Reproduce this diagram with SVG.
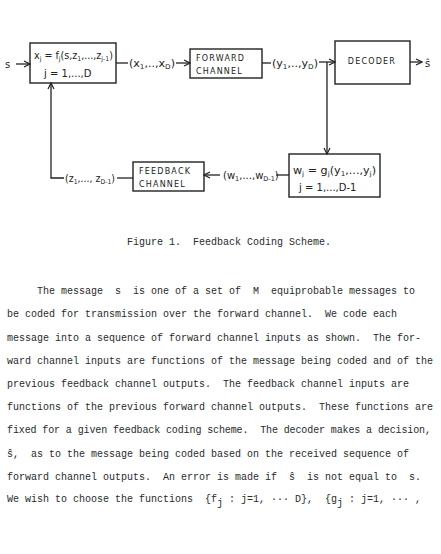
<svg xmlns="http://www.w3.org/2000/svg" width="441" height="554" viewBox="0 0 441 554">
<defs>
<marker id="ah" markerWidth="8" markerHeight="8" refX="7" refY="4" orient="auto" markerUnits="userSpaceOnUse">
<path d="M1,1 L7,4 L1,7" fill="none" stroke="#222" stroke-width="1.2"/>
</marker>
<style>
.box{fill:none;stroke:#222;stroke-width:1.4}
.ln{fill:none;stroke:#222;stroke-width:1.3}
.hw{font-family:"DejaVu Sans","Liberation Sans",sans-serif;font-size:10px;fill:#222}
.cap{font-family:"DejaVu Sans","Liberation Sans",sans-serif;font-size:8px;fill:#222;letter-spacing:1.2px}
.sub{font-size:6.5px}
.tw{font-family:"Liberation Mono","DejaVu Sans Mono",monospace;font-size:10px;fill:#2a2a2a}
</style>
</defs>
<rect width="441" height="554" fill="#fff"/>

<g id="connectors">
<line class="ln" x1="16" y1="64" x2="30" y2="64" marker-end="url(#ah)"/>
<line class="ln" x1="116" y1="63" x2="128" y2="63"/>
<line class="ln" x1="176" y1="63" x2="190" y2="63" marker-end="url(#ah)"/>
<line class="ln" x1="262" y1="63" x2="271" y2="63"/>
<polyline class="ln" points="319,62 335,62" marker-end="url(#ah)"/>
<polyline class="ln" points="327,62 327,154" marker-end="url(#ah)"/>
<line class="ln" x1="410" y1="62" x2="422" y2="62" marker-end="url(#ah)"/>
<line class="ln" x1="289" y1="175" x2="276" y2="175"/>
<line class="ln" x1="220" y1="175" x2="204" y2="175" marker-end="url(#ah)"/>
<line class="ln" x1="133" y1="178" x2="117" y2="178"/>
<polyline class="ln" points="64,178 51,178 51,83" marker-end="url(#ah)"/>
<text class="hw" x="129" y="67" textLength="46" lengthAdjust="spacingAndGlyphs">(x<tspan class="sub" dy="2">1</tspan><tspan dy="-2">,..,x</tspan><tspan class="sub" dy="2">D</tspan><tspan dy="-2">)</tspan></text>
<text class="hw" x="272" y="67" textLength="46" lengthAdjust="spacingAndGlyphs">(y<tspan class="sub" dy="2">1</tspan><tspan dy="-2">,..,y</tspan><tspan class="sub" dy="2">D</tspan><tspan dy="-2">)</tspan></text>
<text class="hw" x="223" y="179" font-size="9">(w<tspan class="sub" dy="2">1</tspan><tspan dy="-2">,...,w</tspan><tspan class="sub" dy="2">D-1</tspan><tspan dy="-2">)</tspan></text>
<text class="hw" x="65" y="182" textLength="50" lengthAdjust="spacingAndGlyphs">(z<tspan class="sub" dy="2">1</tspan><tspan dy="-2">,..., z</tspan><tspan class="sub" dy="2">D-1</tspan><tspan dy="-2">)</tspan></text>
</g>

<g id="source">
<text class="hw" x="5" y="68" font-size="12">s</text>
</g>

<g id="encoder">
<rect class="box" x="30" y="43" width="86" height="40"/>
<text class="hw" x="34" y="59" textLength="79" lengthAdjust="spacingAndGlyphs">x<tspan class="sub" dy="2">j</tspan><tspan dy="-2"> = f</tspan><tspan class="sub" dy="2">j</tspan><tspan dy="-2">(s,z</tspan><tspan class="sub" dy="2">1</tspan><tspan dy="-2">,...,z</tspan><tspan class="sub" dy="2">j-1</tspan><tspan dy="-2">)</tspan></text>
<text class="hw" x="44" y="77">j = 1,...,D</text>
</g>

<g id="forward-channel">
<rect class="box" x="190" y="49" width="72" height="29"/>
<text class="cap" x="196" y="61">FORWARD</text>
<text class="cap" x="196" y="74">CHANNEL</text>
</g>

<g id="decoder">
<rect class="box" x="335" y="41" width="75" height="43"/>
<text class="cap" x="372" y="64" text-anchor="middle">DECODER</text>
</g>

<g id="estimate">
<text class="hw" x="425" y="67" font-size="12">ŝ</text>
</g>

<g id="feedback-encoder">
<rect class="box" x="289" y="154" width="91" height="43"/>
<text class="hw" x="293" y="174" textLength="83" lengthAdjust="spacingAndGlyphs">w<tspan class="sub" dy="2">j</tspan><tspan dy="-2"> = g</tspan><tspan class="sub" dy="2">j</tspan><tspan dy="-2">(y</tspan><tspan class="sub" dy="2">1</tspan><tspan dy="-2">,...,y</tspan><tspan class="sub" dy="2">j</tspan><tspan dy="-2">)</tspan></text>
<text class="hw" x="299" y="191" font-size="9">j = 1,...,D-1</text>
</g>

<g id="feedback-channel">
<rect class="box" x="133" y="162" width="71" height="29"/>
<text class="cap" x="139" y="174">FEEDBACK</text>
<text class="cap" x="139" y="187">CHANNEL</text>
</g>

<g id="caption-and-text">
<text class="tw" x="127" y="245" xml:space="preserve">Figure 1.  Feedback Coding Scheme.</text>
<text class="tw" x="7" y="294" xml:space="preserve">     The message  s  is one of a set of  M  equiprobable messages to</text>
<text class="tw" x="7" y="317" xml:space="preserve">be coded for transmission over the forward channel.  We code each</text>
<text class="tw" x="7" y="340.5" xml:space="preserve">message into a sequence of forward channel inputs as shown.  The for-</text>
<text class="tw" x="7" y="364" xml:space="preserve">ward channel inputs are functions of the message being coded and of the</text>
<text class="tw" x="7" y="387" xml:space="preserve">previous feedback channel outputs.  The feedback channel inputs are</text>
<text class="tw" x="7" y="410" xml:space="preserve">functions of the previous forward channel outputs.  These functions are</text>
<text class="tw" x="7" y="433" xml:space="preserve" textLength="424" lengthAdjust="spacing">fixed for a given feedback coding scheme.  The decoder makes a decision,</text>
<text class="tw" x="7" y="457" xml:space="preserve">ŝ,  as to the message being coded based on the received sequence of</text>
<text class="tw" x="7" y="480" xml:space="preserve">forward channel outputs.  An error is made if  ŝ  is not equal to  s.</text>
<text class="tw" x="7" y="502" xml:space="preserve">We wish to choose the functions  {f<tspan dy="4">j</tspan><tspan dy="-4"> : j=1, ··· D},  {g</tspan><tspan dy="4">j</tspan><tspan dy="-4"> : j=1, ··· ,</tspan></text>
</g>
</svg>
